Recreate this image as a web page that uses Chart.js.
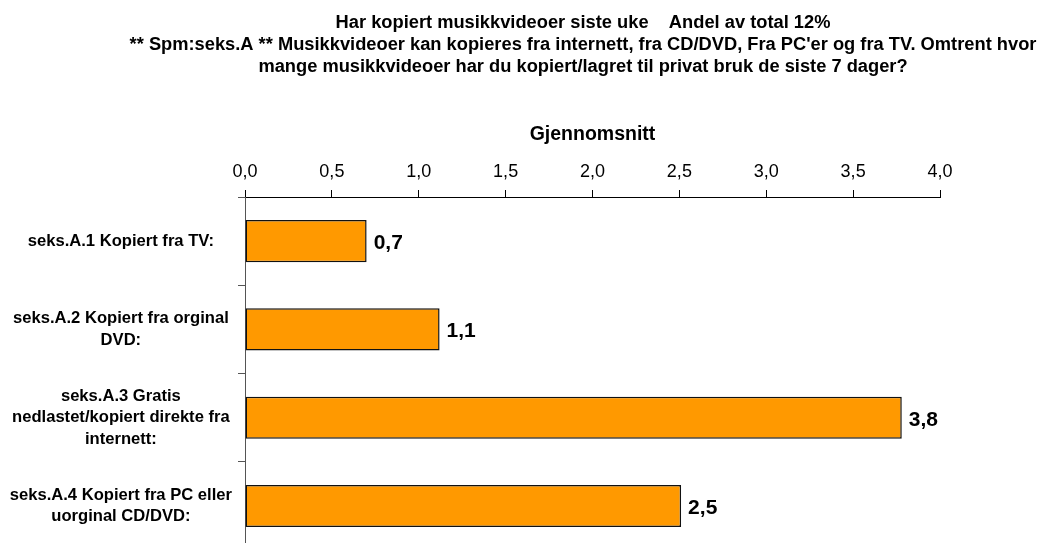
<!DOCTYPE html>
<html>
<head>
<meta charset="utf-8">
<script src="https://cdn.jsdelivr.net/npm/chart.js@4.4.0/dist/chart.umd.min.js"></script>
<style>
  html, body { margin: 0; padding: 0; background: #fff; overflow: hidden; }
  #wrap { position: relative; width: 1043px; height: 567px; }
</style>
</head>
<body>
<div id="wrap"><canvas id="c"></canvas></div>
<script>
const titleLines = [
  'Har kopiert musikkvideoer siste uke    Andel av total 12%',
  "** Spm:seks.A ** Musikkvideoer kan kopieres fra internett, fra CD/DVD, Fra PC'er og fra TV. Omtrent hvor",
  'mange musikkvideoer har du kopiert/lagret til privat bruk de siste 7 dager?'
];
const categories = [
  ['seks.A.1 Kopiert fra TV:'],
  ['seks.A.2 Kopiert fra orginal', 'DVD:'],
  ['seks.A.3 Gratis', 'nedlastet/kopiert direkte fra', 'internett:'],
  ['seks.A.4 Kopiert fra PC eller', 'uorginal CD/DVD:']
];
const values = [0.70, 1.12, 3.78, 2.51];
const axisTitle = 'Gjennomsnitt';
const xMin = 0, xMax = 4, xStep = 0.5;

const fmt = v => Number(v).toFixed(1).replace('.', ',');

const titlePlugin = {
  id: 'customTitle',
  afterDraw(chart) {
    const ctx = chart.ctx;
    ctx.save();
    ctx.fillStyle = '#000';
    ctx.font = 'bold 18.3px "Liberation Sans", Arial, sans-serif';
    ctx.textAlign = 'center';
    ctx.textBaseline = 'middle';
    const ys = [23, 45, 67];
    titleLines.forEach((t, i) => ctx.fillText(t, 583, ys[i]));
    ctx.restore();
  }
};

const valueLabels = {
  id: 'valueLabels',
  afterDatasetsDraw(chart) {
    const ctx = chart.ctx;
    const meta = chart.getDatasetMeta(0);
    ctx.save();
    ctx.fillStyle = '#000';
    ctx.font = 'bold 21px "Liberation Sans", Arial, sans-serif';
    ctx.textAlign = 'left';
    ctx.textBaseline = 'middle';
    meta.data.forEach((bar, i) => {
      ctx.fillText(fmt(chart.data.datasets[0].data[i]), bar.x + 7, bar.y + 2);
    });
    ctx.restore();
  }
};

new Chart(document.getElementById('c'), {
  type: 'bar',
  data: {
    labels: categories,
    datasets: [{
      data: values,
      backgroundColor: '#FF9900',
      borderColor: '#111',
      borderWidth: 1.5,
      borderSkipped: false,
      barPercentage: 0.477,
      categoryPercentage: 1.0
    }]
  },
  options: {
    indexAxis: 'y',
    responsive: true,
    maintainAspectRatio: false,
    animation: false,
    layout: { padding: { top: 110, left: 0, right: 103, bottom: 0 } },
    plugins: {
      legend: { display: false },
      title: { display: false },
      tooltip: { enabled: false }
    },
    scales: {
      x: {
        position: 'top',
        min: xMin, max: xMax,
        afterFit(scale) { scale.height = 87; },
        ticks: {
          stepSize: xStep,
          callback: v => fmt(v),
          color: '#000',
          font: { family: '"Liberation Sans", Arial, sans-serif', size: 18 },
          padding: 7,
          maxRotation: 0
        },
        grid: { drawOnChartArea: false, drawTicks: true, tickLength: 7, color: '#000', lineWidth: 1 },
        border: { display: true, color: '#000', width: 1 },
        title: {
          display: true,
          text: axisTitle,
          color: '#000',
          font: { family: '"Liberation Sans", Arial, sans-serif', size: 19.5, weight: 'bold' },
          padding: { top: 13, bottom: 0 }
        }
      },
      y: {
        afterFit(scale) { scale.width = 245; },
        ticks: {
          crossAlign: 'center',
          color: '#000',
          padding: 6,
          font: { family: '"Liberation Sans", Arial, sans-serif', size: 16.6, weight: 'bold', lineHeight: 1.31 }
        },
        grid: { drawOnChartArea: false, drawTicks: true, tickLength: 7, color: '#555', offset: true },
        border: { display: true, color: '#555', width: 1 }
      }
    }
  },
  plugins: [titlePlugin, valueLabels]
});
</script>
</body>
</html>
